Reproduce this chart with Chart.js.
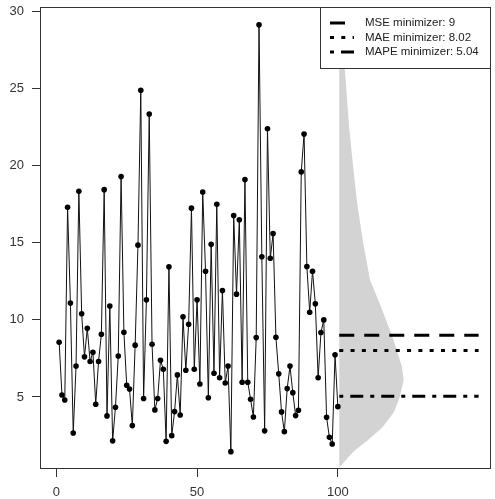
<!DOCTYPE html>
<html>
<head>
<meta charset="utf-8">
<script src="https://cdn.jsdelivr.net/npm/chart.js@4.4.0/dist/chart.umd.min.js"></script>
<style>
  html, body { margin: 0; padding: 0; background: #fff; overflow: hidden; }
</style>
</head>
<body>
<canvas id="chart" width="495" height="499"></canvas>
<script>
// observed series, one value per period (t = 1..100)
let values = [
  8.55, 5.13, 4.8, 17.3, 11.1, 2.66, 7.0, 18.35, 10.4, 7.6,
  9.45, 7.3, 7.9, 4.53, 7.3, 9.07, 18.45, 3.77, 10.9, 2.15,
  4.33, 7.66, 19.3, 9.2, 5.76, 5.52, 3.14, 8.36, 14.85, 24.9,
  4.9, 11.3, 23.35, 8.42, 4.16, 4.9, 7.38, 6.8, 2.12, 13.44,
  2.49, 4.05, 6.43, 3.83, 10.2, 6.73, 9.72, 17.25, 6.8, 11.3,
  5.84, 18.3, 13.16, 4.95, 14.9, 6.54, 17.5, 6.25, 11.9, 5.9,
  7.0, 1.45, 16.77, 11.67, 16.5, 5.95, 19.1, 5.95, 4.85, 3.7,
  8.85, 29.15, 14.1, 2.8, 22.4, 14.0, 15.6, 8.87, 6.5, 4.03,
  2.75, 5.54, 7.0, 5.28, 3.79, 4.14, 19.6, 22.06, 13.46, 10.5,
  13.16, 11.04, 6.25, 9.18, 10.0, 3.68, 2.38, 1.95, 7.73, 4.37,
]

// predictive density drawn sideways after the last period
let densityLevels = [0.4, 1, 1.5, 2.2, 3, 4, 5, 6.1, 7, 8, 9, 10, 11, 12.6, 15, 17.5, 20, 22.5, 25, 27.5, 30.3]
let densityWidth = [0, 2.8, 5.3, 10.2, 15.2, 19.4, 21.5, 22.9, 22.2, 20.5, 18.7, 16.6, 14.5, 10.9, 8.5, 6.4, 4.9, 3.5, 2.5, 1.4, 0.7]
let densityBase = 100.5

// point forecasts and the loss each one minimizes
let lossNames = ['MSE', 'MAE', 'MAPE']
let minimizers = [9, 8.02, 5.04]
let forecastFrom = 100.5
let forecastTo = 150

let xTicks = [0, 50, 100]
let yTicks = [5, 10, 15, 20, 25, 30]

let dashes = [[15, 10], [4, 7.3], [4, 7, 13, 7]]

const font = { family: "'Liberation Sans', Arial, sans-serif", size: 13 }
const ink = '#333'

let seriesPts = values.map((v, i) => ({ x: i + 1, y: v }))

let densityPts = [{ x: densityBase, y: densityLevels[0] }]
densityLevels.forEach((lv, i) => densityPts.push({ x: densityBase + densityWidth[i], y: lv }))
densityPts.push({ x: densityBase, y: densityLevels[densityLevels.length - 1] })

let forecastSets = minimizers.map((m, i) => ({
  label: `${lossNames[i]} minimizer: ${m}`,
  data: [{ x: forecastFrom, y: m }, { x: forecastTo, y: m }],
  borderColor: '#000',
  borderWidth: 3,
  borderDash: dashes[i],
  borderCapStyle: 'butt',
  pointRadius: 0,
  fill: false,
}))

// R-style box round the plot region
const frame = {
  id: 'frame',
  afterDraw(chart) {
    const { ctx, chartArea: a } = chart
    ctx.save()
    ctx.strokeStyle = ink
    ctx.lineWidth = 1
    ctx.strokeRect(a.left + 0.5, a.top + 0.5, a.right - a.left - 1, a.bottom - a.top)
    ctx.restore()
  },
}

// boxed legend in the top right corner
const boxLegend = {
  id: 'boxLegend',
  afterDraw(chart) {
    const { ctx, chartArea: a } = chart
    const w = 171, h = 61, rowH = 14.5
    const x0 = a.right - w, y0 = a.top
    ctx.save()
    ctx.fillStyle = '#fff'
    ctx.fillRect(x0, y0, w, h)
    ctx.strokeStyle = ink
    ctx.lineWidth = 1
    ctx.strokeRect(x0 + 0.5, y0 + 0.5, w - 1, h)
    ctx.font = `11.5px ${font.family}`
    ctx.textBaseline = 'middle'
    forecastSets.forEach((ds, i) => {
      const y = y0 + 16 + i * rowH
      ctx.strokeStyle = '#000'
      ctx.lineWidth = 3
      ctx.setLineDash(ds.borderDash)
      ctx.beginPath()
      ctx.moveTo(x0 + 10, y)
      ctx.lineTo(x0 + 34, y)
      ctx.stroke()
      ctx.setLineDash([])
      ctx.fillStyle = '#222'
      ctx.fillText(ds.label, x0 + 45, y)
    })
    ctx.restore()
  },
}

new Chart(document.getElementById('chart'), {
  type: 'line',
  data: {
    datasets: [
      {
        data: seriesPts,
        borderColor: '#111',
        borderWidth: 1,
        pointRadius: 2.8,
        pointBackgroundColor: '#000',
        pointBorderWidth: 0,
        fill: false,
      },
      ...forecastSets,
      {
        data: densityPts,
        borderWidth: 0,
        pointRadius: 0,
        backgroundColor: '#d3d3d3',
        fill: 'shape',
      },
    ],
  },
  options: {
    responsive: false,
    animation: false,
    events: [],
    layout: { padding: { top: 7, right: 1, left: 0, bottom: 0 } },
    plugins: { legend: { display: false }, tooltip: { enabled: false } },
    scales: {
      x: {
        type: 'linear',
        min: -5.8,
        max: 154.4,
        afterBuildTicks: (s) => { s.ticks = xTicks.map((v) => ({ value: v })) },
        afterFit: (s) => {
          s.height = 31
          s.paddingLeft = 0
          s.paddingRight = 0
        },
        grid: { drawOnChartArea: false, tickLength: 9, color: ink },
        border: { display: false },
        ticks: { font, color: ink, padding: 8, maxRotation: 0, autoSkip: false },
      },
      y: {
        type: 'linear',
        min: 0.39,
        max: 30.3,
        afterBuildTicks: (s) => { s.ticks = yTicks.map((v) => ({ value: v })) },
        afterFit: (s) => {
          s.width = 40
          s.paddingTop = 0
          s.paddingBottom = 0
        },
        grid: { drawOnChartArea: false, tickLength: 8, color: ink },
        border: { display: false },
        ticks: { font, color: ink, padding: 8, autoSkip: false },
      },
    },
  },
  plugins: [frame, boxLegend],
})
</script>
</body>
</html>
